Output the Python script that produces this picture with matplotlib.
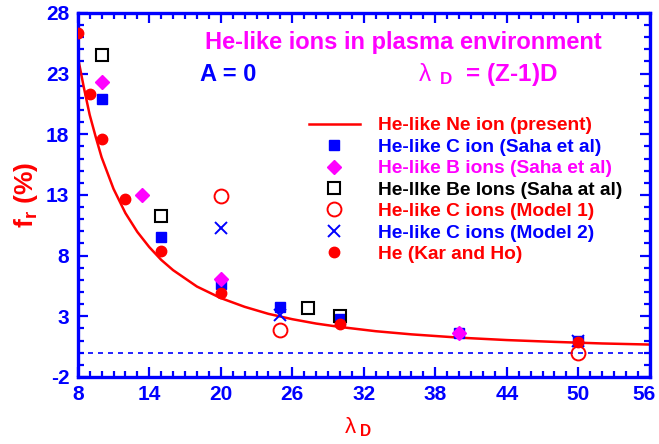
import matplotlib
matplotlib.use("Agg")
import matplotlib.pyplot as plt
from matplotlib.ticker import FixedLocator, MultipleLocator
from matplotlib.transforms import ScaledTranslation

plt.rcParams['font.family'] = ['Liberation Sans', 'DejaVu Sans']
plt.rcParams['mathtext.fontset'] = 'custom'
plt.rcParams['mathtext.rm'] = 'Liberation Sans'
plt.rcParams['mathtext.bf'] = 'Liberation Sans:bold'
plt.rcParams['mathtext.it'] = 'Liberation Sans'
plt.rcParams['axes.unicode_minus'] = False

BLUE = '#0000ff'
RED = '#ff0000'
MAG = '#ff00ff'

x_ticks = [8, 14, 20, 26, 32, 38, 44, 50, 56]
y_ticks = [-2, 3, 8, 13, 18, 23, 28]

# present calculation: He-like Ne ion
ne_lam = [8, 8.5, 9, 9.5, 10, 11, 12, 13, 14, 15, 16, 18, 20, 22, 24, 26, 28, 30,
          33, 36, 40, 44, 48, 52, 56]
ne_fr = [24.4, 21.9, 19.6, 17.8, 16.1, 13.5, 11.5, 9.95, 8.7, 7.65, 6.8, 5.45, 4.5,
         3.78, 3.2, 2.76, 2.4, 2.12, 1.77, 1.51, 1.24, 1.04, 0.89, 0.76, 0.67]

# He-like C ion (Saha et al)
c_saha_lam = [10, 15, 20, 25, 30, 40, 50]
c_saha_fr = [20.9, 9.55, 5.65, 3.75, 2.75, 1.6, 0.95]

# He-like B ions (Saha et al)
b_saha_lam = [10, 13.4, 20, 40]
b_saha_fr = [22.3, 13.0, 6.1, 1.65]

# He-like Be ions (Saha at al)
be_saha_lam = [10, 15, 27.3, 30]
be_saha_fr = [24.5, 11.3, 3.65, 3.05]

# He-like C ions (Model 1)
c_m1_lam = [20, 25, 50]
c_m1_fr = [12.9, 1.85, 0.0]

# He-like C ions (Model 2)
c_m2_lam = [20, 25, 50]
c_m2_fr = [10.25, 3.1, 0.95]

# He (Kar and Ho)
he_kh_lam = [8, 9.05, 10, 12, 15, 20, 30, 50]
he_kh_fr = [26.35, 21.3, 17.6, 12.65, 8.4, 4.9, 2.35, 0.88]

fig = plt.figure(figsize=(6.59, 4.44), dpi=100)
ax = fig.add_axes([0.118, 0.151, 0.868, 0.820])

ax.axhline(0, color=BLUE, lw=1.2, ls=(0, (3, 3)), zorder=1)
ax.plot(ne_lam, ne_fr, color=RED, lw=1.8, label='He-like Ne ion (present)', zorder=2)
ax.plot(c_saha_lam, c_saha_fr, 's', color=BLUE, ms=7, mec=BLUE, ls='none',
        label='He-like C ion (Saha et al)', zorder=3)
ax.plot(b_saha_lam, b_saha_fr, 'D', color=MAG, ms=7, mec=MAG, ls='none',
        label='He-like B ions (Saha et al)', zorder=3)
ax.plot(be_saha_lam, be_saha_fr, 's', mfc='none', mec='black', mew=1.5, ms=8, ls='none',
        label='He-llke Be Ions (Saha at al)', zorder=3)
ax.plot(c_m1_lam, c_m1_fr, 'o', mfc='none', mec=RED, mew=1.4, ms=10, ls='none',
        label='He-like C ions (Model 1)', zorder=3)
ax.plot(c_m2_lam, c_m2_fr, 'x', color=BLUE, mew=1.4, ms=9, ls='none',
        label='He-like C ions (Model 2)', zorder=3)
ax.plot(he_kh_lam, he_kh_fr, 'o', color=RED, ms=7.5, ls='none',
        label='He (Kar and Ho)', zorder=4)

ax.set_xlim(8, 56)
ax.set_ylim(-2, 28)
ax.xaxis.set_major_locator(FixedLocator(x_ticks))
ax.xaxis.set_minor_locator(MultipleLocator(1))
ax.yaxis.set_major_locator(FixedLocator(y_ticks))
ax.yaxis.set_minor_locator(MultipleLocator(1))

for s in ax.spines.values():
    s.set_color(BLUE)
    s.set_linewidth(2.4)
ax.tick_params(which='both', direction='in', top=True, right=True, color=BLUE,
               width=1.6, labelcolor=BLUE, labelsize=15, pad=6)
ax.tick_params(which='major', length=7)
ax.tick_params(which='minor', length=4.5)
for lab in ax.get_xticklabels() + ax.get_yticklabels():
    lab.set_fontweight('bold')
# nudge the last x label so it stays inside the figure
last = ax.get_xticklabels()[-1]
last.set_transform(last.get_transform() + ScaledTranslation(-6 / 100, 0, fig.dpi_scale_trans))

ax.set_xlabel(r'$\lambda_{\ \mathbf{D}}$', color=RED, fontsize=16)
ax.xaxis.set_label_coords(0.49, -0.105)
ax.set_ylabel(r'$\mathbf{f_r}$ (%)', color=RED, fontsize=19, fontweight='bold',
              labelpad=4)

ax.text(0.223, 0.92, 'He-like ions in plasma environment', transform=ax.transAxes,
        color=MAG, fontsize=17, fontweight='bold', va='center')
ax.text(0.213, 0.83, 'A = 0', transform=ax.transAxes,
        color=BLUE, fontsize=17, fontweight='bold', va='center')
ax.text(0.594, 0.83, r'$\lambda_{\ \ \mathbf{D}}$  = (Z-1)D', transform=ax.transAxes,
        color=MAG, fontsize=17.5, fontweight='bold', va='center')

leg = ax.legend(loc='upper left', bbox_to_anchor=(0.39, 0.735), frameon=False,
                fontsize=13.8, handlelength=2.7, handletextpad=0.9,
                labelspacing=0.21, borderaxespad=0)
leg_colors = [RED, BLUE, MAG, 'black', RED, BLUE, RED]
for txt, c in zip(leg.get_texts(), leg_colors):
    txt.set_color(c)
    txt.set_fontweight('bold')

fig.savefig('out.png', dpi=100)
